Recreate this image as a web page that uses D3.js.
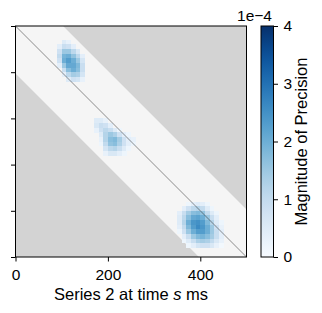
<!DOCTYPE html>
<html><head><meta charset="utf-8">
<script src="https://cdn.jsdelivr.net/npm/d3@7"></script>
<style>body{margin:0;background:#fff}svg{display:block}text{font-family:"Liberation Sans",Arial,sans-serif;fill:#000}</style>
</head><body><svg id="c" width="322" height="313"></svg>
<script>
// ---- data ----
const xTicks = [0, 200, 400];
const yTicks = [0, 100, 200, 300, 400, 500];
const cbTicks = [0, 1, 2, 3, 4];
const cellSize = 10;          // ms per cell
const bandHalfWidth = 103;    // |t - s| limit of valid region (ms)
// blob values (x1e-4), top-left cell given by col,row
const blob1 = {col: 9, row: 3, values: [
  [0, 0.5, 0.3, 0, 0, 0],
  [0.4, 0.9, 0.8, 0.4, 0, 0],
  [0.8, 1.5, 1.5, 1.1, 0.6, 0],
  [1.0, 1.9, 2.0, 1.6, 1.1, 0.4],
  [0.8, 2.0, 2.3, 2.0, 1.5, 0.7],
  [0.4, 1.5, 2.1, 2.1, 1.8, 0.9],
  [0, 0.9, 1.7, 2.0, 1.7, 0.9],
  [0, 0.4, 1.1, 1.4, 1.3, 0.7],
  [0, 0, 0.5, 0.8, 0.7, 0.3]
]};
const blob2 = {col: 17, row: 20, values: [
  [0.5, 0.5, 0.3, 0, 0, 0, 0, 0, 0],
  [0.6, 0.9, 0.8, 0.4, 0, 0, 0, 0, 0],
  [0.3, 0.8, 1.1, 0.9, 0.5, 0.2, 0, 0, 0],
  [0, 0.5, 1.2, 1.5, 1.3, 0.8, 0.4, 0.2, 0],
  [0, 0.3, 1.2, 1.7, 1.8, 1.4, 0.8, 0.4, 0.3],
  [0, 0.2, 1.0, 1.6, 1.7, 1.3, 0.8, 0.4, 0.2],
  [0, 0, 0.7, 1.1, 1.2, 0.9, 0.5, 0.2, 0],
  [0, 0, 0.3, 0.6, 0.6, 0.4, 0.2, 0, 0]
]};
const blob3 = {col: 35, row: 38, values: [
  [0, 0, 0.2, 0.4, 0.5, 0.4, 0.2, 0, 0, 0],
  [0, 0.4, 0.8, 1.1, 1.2, 1.0, 0.5, 0.2, 0, 0],
  [0.4, 0.9, 1.4, 1.7, 1.8, 1.6, 1.0, 0.5, 0.2, 0],
  [0.5, 1.1, 1.7, 2.1, 2.2, 2.0, 1.5, 0.9, 0.4, 0],
  [0.5, 1.2, 2.0, 2.4, 2.5, 2.3, 1.8, 1.2, 0.5, 0.2],
  [0.4, 1.0, 1.8, 2.3, 2.6, 2.4, 2.0, 1.5, 0.8, 0.3],
  [0.2, 0.8, 1.5, 2.0, 2.3, 2.3, 2.0, 1.5, 0.9, 0.4],
  [0, 0.4, 0.9, 1.5, 1.8, 1.9, 1.7, 1.4, 0.9, 0.4],
  [0, 0.2, 0.5, 0.9, 1.3, 1.4, 1.3, 1.0, 0.6, 0.3],
  [0, 0, 0.2, 0.4, 0.7, 0.8, 0.8, 0.6, 0.3, 0.1]
]};
const blobs = [blob1, blob2, blob3];

// ---- layout ----
const L = 15.5, T = 26, W = 231, H = 231;
const svg = d3.select("#c");
const x = d3.scaleLinear().domain([0, 500]).range([L, L + W]);
const y = d3.scaleLinear().domain([0, 500]).range([T, T + H]);
const color = v => d3.interpolateBlues(Math.max(0, Math.min(1, v / 4)));

svg.append("clipPath").attr("id", "pc").append("rect")
  .attr("x", L).attr("y", T).attr("width", W).attr("height", H);
const g = svg.append("g").attr("clip-path", "url(#pc)");
g.append("rect").attr("x", L).attr("y", T).attr("width", W).attr("height", H).attr("fill", "#d3d3d3");
const b = bandHalfWidth;
const band = [[0,0],[b,0],[500,500-b],[500,500],[500-b,500],[0,b]];
g.append("polygon").attr("points", band.map(p => [x(p[0]), y(p[1])].join(",")).join(" "))
  .attr("fill", "#f5f5f5");

const cells = [];
blobs.forEach(bl => bl.values.forEach((r, i) => r.forEach((v, j) => {
  if (v > 0) cells.push({c: bl.col + j, r: bl.row + i, v});
})));
g.selectAll("rect.cell").data(cells).enter().append("rect").attr("class", "cell")
  .attr("x", d => x(d.c * cellSize)).attr("y", d => y(d.r * cellSize))
  .attr("width", x(cellSize) - x(0) + 0.3).attr("height", y(cellSize) - y(0) + 0.3)
  .attr("fill", d => color(d.v)).attr("shape-rendering", "crispEdges");

g.append("line").attr("x1", x(0)).attr("y1", y(0)).attr("x2", x(500)).attr("y2", y(500))
  .attr("stroke", "#222").attr("stroke-width", 0.5);

svg.append("rect").attr("x", L).attr("y", T).attr("width", W).attr("height", H)
  .attr("fill", "none").attr("stroke", "#000").attr("stroke-width", 1);

const xa = svg.append("g").attr("transform", `translate(0,${T + H})`)
  .call(d3.axisBottom(x).tickValues(xTicks).tickSize(4.5).tickPadding(7).tickFormat(d3.format("d")));
const ya = svg.append("g").attr("transform", `translate(${L},0)`)
  .call(d3.axisLeft(y).tickValues(yTicks).tickSize(4.5).tickFormat(""));
[xa, ya].forEach(a => { a.select(".domain").remove(); a.selectAll("line").attr("stroke", "#000"); });
xa.selectAll("text").attr("font-size", 15.5).style("font-family", "Liberation Sans, Arial, sans-serif");

svg.append("text").attr("x", x(250)).attr("y", 300).attr("text-anchor", "middle").attr("font-size", 16.5)
  .html('Series 2 at time <tspan font-style="italic">s</tspan> ms');

// ---- colorbar ----
const CL = 261, CW = 12.5;
const cy = d3.scaleLinear().domain([0, 4]).range([T + H, T]);
const defs = svg.append("defs");
const grad = defs.append("linearGradient").attr("id", "cbg").attr("x1", 0).attr("y1", 1).attr("x2", 0).attr("y2", 0);
d3.range(0, 1.0001, 0.05).forEach(t => grad.append("stop").attr("offset", t).attr("stop-color", d3.interpolateBlues(t)));
svg.append("rect").attr("x", CL).attr("y", T).attr("width", CW).attr("height", H)
  .attr("fill", "url(#cbg)").attr("stroke", "#000").attr("stroke-width", 1);
const ca = svg.append("g").attr("transform", `translate(${CL + CW},0)`)
  .call(d3.axisRight(cy).tickValues(cbTicks).tickSize(4.5).tickPadding(5.5).tickFormat(d3.format("d")));
ca.select(".domain").remove();
ca.selectAll("line").attr("stroke", "#000");
ca.selectAll("text").attr("font-size", 15.5).style("font-family", "Liberation Sans, Arial, sans-serif");
svg.append("text").attr("x", 272).attr("y", 21).attr("text-anchor", "end").attr("font-size", 15.5).text("1e\u22124");
svg.append("text").attr("transform", `translate(307,${T + H / 2}) rotate(-90)`).attr("text-anchor", "middle")
  .attr("font-size", 16.5).text("Magnitude of Precision");
</script></body></html>
